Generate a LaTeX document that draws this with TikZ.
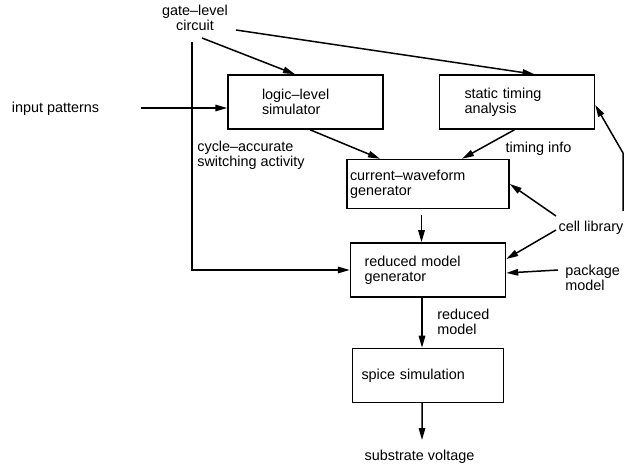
\documentclass[tikz,border=0pt]{standalone}
\usepackage{fontspec}
\setmainfont{Liberation Sans}
\usetikzlibrary{arrows.meta,positioning,calc}
\newcommand\lblfont{\fontsize{8.2}{8.6}\selectfont}
\tikzset{
  box/.style={draw,line width=0.85pt,align=left,inner ysep=0pt,minimum height=10.8mm,font=\lblfont},
  lbl/.style={align=left,inner sep=0pt,font=\lblfont},
  wire/.style={line width=0.85pt},
  flow/.style={wire,-{Triangle[length=2.4mm,width=1.3mm]}},
}

\begin{document}
\begin{tikzpicture}[x=0.2mm,y=-0.2mm]
\useasboundingbox (0,0) rectangle (632,468);
% blocks
\node[box,inner xsep=6.8mm,text width=17.4mm] (logic) at (305.5,102) {logic--level\\simulator};
\node[box,inner xsep=5mm,text width=21mm,right=11mm of logic] (static) {static timing\\analysis};
\node[box,inner xsep=0.6mm,text width=31.2mm,minimum height=9.8mm,below=5.8mm of logic,xshift=24.5mm] (cwg) {current--waveform\\generator};
\node[box,inner xsep=2.8mm,text width=25.4mm,below=6.6mm of cwg] (rmg) {reduced model\\generator};
\node[box,inner xsep=1.8mm,text width=26.6mm,below=10mm of rmg] (spice) {spice simulation};
% free labels
\node[lbl,align=center] (gate) at (195,18) {gate--level\\circuit};
\node[lbl] (input) at (55.5,109) {input patterns};
\node[lbl,anchor=west] (cycle) at (197,155) {cycle--accurate\\switching activity};
\node[lbl] (tinfo) at (538.5,149) {timing info};
\node[lbl] (cell) at (591,228) {cell library};
\node[lbl,anchor=west] (pkg) at (565,278) {package\\model};
\node[lbl,anchor=west] (redm) at (437,322) {reduced\\model};
\node[lbl] (subv) at (419.5,457) {substrate voltage};
% flows
\draw[flow] ($(gate)+(7,20)$) -- ($(logic.north)+(-10.5,0)$);
\draw[flow] ($(gate)+(41,12)$) -- ($(static.north)+(17.5,0)$);
\draw[flow] ($(gate)+(-3,24)$) |- (rmg.west);
\draw[flow] ($(input)+(85.5,-1)$) -- ($(logic.west)+(0,6)$);
\draw[flow] ($(logic.south)+(4.5,0)$) -- ($(cwg.north)+(-48,0)$);
\draw[flow] ($(static.south)+(-2.5,0)$) -- ($(cwg.north)+(34,0)$);
\draw[flow] ($(cwg.south)+(-6.5,6)$) -- ($(rmg.north)+(-6.5,0)$);
\draw[flow] ($(rmg.south)+(-6,0)$) -- ($(spice.north)+(-6,0)$);
\draw[flow] ($(spice.south)+(-6,0)$) -- ($(subv)+(2.5,-17)$);
\draw[flow] ($(cell)+(-35,-12)$) -- (cwg.east);
\draw[flow] ($(cell)+(-35,2)$) -- ($(rmg.east)+(0,-11)$);
\draw[flow] ($(pkg.west)+(-7,-8)$) -- ($(rmg.east)+(0,3)$);
\draw[flow] ($(cell)+(32,-17)$) -- ++(0,-58) -- ($(static.east)+(0,3)$);
\end{tikzpicture}
\end{document}
